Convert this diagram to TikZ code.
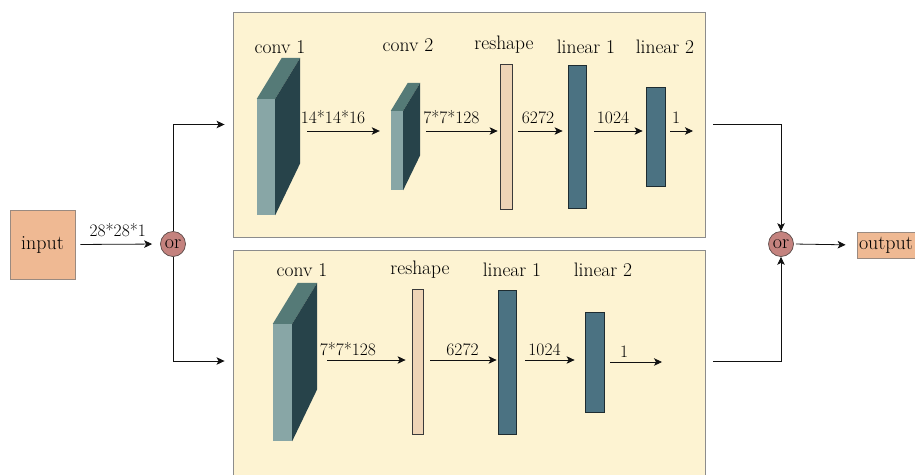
\documentclass[tikz,border=0pt]{standalone}
\usepackage{fontspec}
\usetikzlibrary{arrows.meta}
\definecolor{panelbg}{HTML}{FDF3D2}
\definecolor{panelbd}{HTML}{8C8C8C}
\definecolor{cfront}{HTML}{88A6A6}
\definecolor{ctop}{HTML}{557A77}
\definecolor{cside}{HTML}{27434A}
\definecolor{linfill}{HTML}{4B7282}
\definecolor{linbd}{HTML}{1E2C31}
\definecolor{reshfill}{HTML}{EED4B6}
\definecolor{reshbd}{HTML}{3A3A3A}
\definecolor{iofill}{HTML}{EFB993}
\definecolor{iobd}{HTML}{9A8A80}
\definecolor{orfill}{HTML}{C4827E}
\definecolor{orbd}{HTML}{5A4A48}
\definecolor{wire}{HTML}{111111}
% top and right faces of a convolution block, drawn beside its front face
\newcommand\convfaces[5]{%
  \fill[ctop] (#1.north west) -- ++(#2,#3) -- ([shift={(#2,#3)}]#1.north east) -- (#1.north east) -- cycle;
  \fill[cside] (#1.north east) -- ([shift={(#2,#3)}]#1.north east) -- ([shift={(#4,#5)}]#1.south east) -- (#1.south east) -- cycle;
}
\tikzset{
  txt/.style={font=\fontsize{19.5}{22}\selectfont, inner sep=0pt},
  arr/.style={-{Stealth[length=8pt,width=7.5pt,inset=2pt]}, line width=0.8pt, draw=wire},
  panel/.style={draw=panelbd, fill=panelbg, line width=0.9pt, inner sep=0pt},
  linbox/.style={draw=linbd, fill=linfill, line width=0.8pt, inner sep=0pt},
  reshbox/.style={draw=reshbd, fill=reshfill, line width=0.8pt, inner sep=0pt},
  convfront/.style={fill=cfront, inner sep=0pt},
  iobox/.style={draw=iobd, fill=iofill, line width=0.7pt, inner sep=0pt, font=\fontsize{20}{22}\selectfont},
  orc/.style={circle, draw=orbd, fill=orfill, line width=0.7pt, minimum size=25pt, inner sep=0pt, font=\fontsize{20}{22}\selectfont},
  lblabove/.style={above=#1, font=\fontsize{17.5}{20}\selectfont, inner sep=0pt, text=black},
  lblabove/.default=7pt,
}
\begin{document}
\begin{tikzpicture}[x=1pt, y=-1pt]
\useasboundingbox (0,0) rectangle (915,474);

% panels
\node[panel, minimum width=472pt, minimum height=225pt] (tp) at (469,124.5) {};
\node[panel, minimum width=472pt, minimum height=228pt] (bp) at (469,364) {};

% input, or gates, output
\node[iobox, minimum width=65pt, minimum height=69pt] (in) at (42.5,244.5) {input};
\node[orc] (or1) at (173,244) {or};
\node[orc] (or2) at (781,244) {or};
\node[iobox, minimum width=70pt, minimum height=26pt, text width=66pt, align=left] (out) at (892,245) {output};

% ---------- upper branch ----------
\node[convfront, minimum width=18pt, minimum height=116pt] (tc1) at (266,157) {};
\convfaces{tc1}{25}{-41}{25}{-52}
\node[convfront, minimum width=12pt, minimum height=79pt] (tc2) at (397,150.5) {};
\convfaces{tc2}{17}{-28}{17}{-35}
\node[reshbox, minimum width=12pt, minimum height=145pt] (tr) at (506,136.5) {};
\node[linbox, minimum width=18pt, minimum height=143pt] (tl1) at (577,136.5) {};
\node[linbox, minimum width=19pt, minimum height=99pt] (tl2) at (655.5,136.5) {};

\node[txt] (tc1t) at (280,47) {conv 1};
\node[txt] (tc2t) at (408,45) {conv 2};
\node[txt] (trt) at (504,45) {reshape};
\node[txt] (tl1t) at (586,47) {linear 1};
\node[txt] (tl2t) at (665,47) {linear 2};

\coordinate (row1) at (0,131);
\coordinate (tend) at (693,131);
\draw[arr, shorten <=32pt, shorten >=11pt] (tc1.east |- row1) -- node[lblabove]{14*14*16} (tc2.west |- row1);
\draw[arr, shorten <=23pt, shorten >=2pt] (tc2.east |- row1) -- node[lblabove]{7*7*128} (tr.west |- row1);
\draw[arr, shorten <=6pt, shorten >=5pt] (tr.east |- row1) -- node[lblabove, xshift=-2pt]{6272} (tl1.west |- row1);
\draw[arr, shorten <=8pt, shorten >=3pt] (tl1.east |- row1) -- node[lblabove, xshift=-3pt]{1024} (tl2.west |- row1);
\draw[arr, shorten <=5pt] (tl2.east |- row1) -- node[lblabove, xshift=-3pt]{1} (tend);

% ---------- lower branch ----------
\node[convfront, minimum width=19pt, minimum height=117pt] (bc1) at (282.5,382.5) {};
\convfaces{bc1}{25}{-41}{25}{-52}
\node[reshbox, minimum width=11pt, minimum height=145pt] (br) at (417.5,361.5) {};
\node[linbox, minimum width=18pt, minimum height=144pt] (bl1) at (507,362) {};
\node[linbox, minimum width=19pt, minimum height=100pt] (bl2) at (594.5,362) {};

\node[txt] (bc1t) at (302,270) {conv 1};
\node[txt] (brt) at (420,270) {reshape};
\node[txt] (bl1t) at (512,270) {linear 1};
\node[txt] (bl2t) at (603,270) {linear 2};

\coordinate (row2) at (0,360);
\coordinate (bend) at (662,362);
\draw[arr, shorten <=35pt, shorten >=6pt] (bc1.east |- row2) -- node[lblabove=4pt, xshift=-4pt]{7*7*128} (br.west |- row2);
\draw[arr, shorten <=7pt, shorten >=1pt] (br.east |- row2) -- node[lblabove=4pt, xshift=2pt]{6272} (bl1.west |- row2);
\draw[arr, shorten <=9pt, shorten >=10pt] (bl1.east |- row2) -- node[lblabove=4pt, xshift=-6pt]{1024} (bl2.west |- row2);
\draw[arr, shorten <=6pt] (bl2.east |- bend) -- node[lblabove=4pt, xshift=-9pt]{1} (bend);

% ---------- routing ----------
\draw[arr, shorten <=5pt, shorten >=8pt] (in.east) -- node[lblabove]{28*28*1} (or1.west);
\draw[arr] (or1.north) |- ([xshift=-8pt]tp.west);
\draw[arr] (or1.south) |- ([xshift=-8pt, yshift=3pt]bp.west);
\draw[arr] ([xshift=8pt]tp.east) -| (or2.north);
\draw[arr] ([xshift=8pt, yshift=3pt]bp.east) -| (or2.south);
\draw[arr, shorten <=2pt, shorten >=11pt] (or2.east) -- (out.west);
\end{tikzpicture}
\end{document}
